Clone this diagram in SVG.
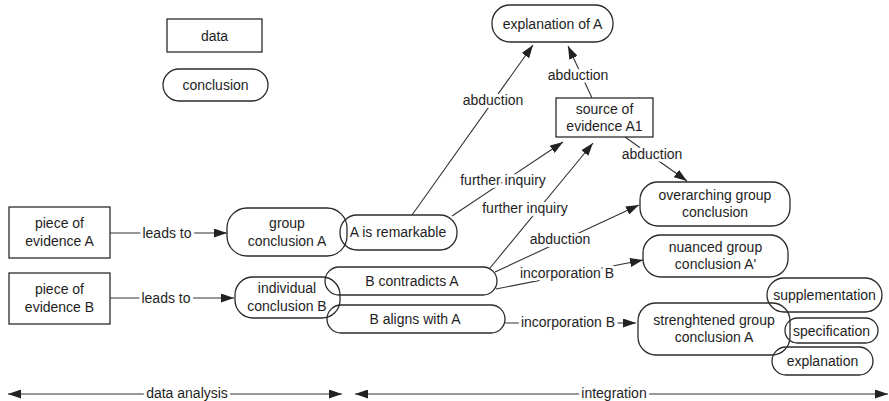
<svg xmlns="http://www.w3.org/2000/svg" width="889" height="401" viewBox="0 0 889 401">
  <style>
    .box { fill: none; stroke: #2b2b2b; stroke-width: 1.3; }
    .t { font-family: "Liberation Sans", Arial, sans-serif; font-size: 14px; fill: #1e1e1e; text-anchor: middle; }
    .edge { fill: none; stroke: #333; stroke-width: 1.1; }
    .arrow { marker-end: url(#head); }
    .lbl { font-family: "Liberation Sans", Arial, sans-serif; font-size: 14px; fill: #1e1e1e; text-anchor: middle; stroke: #fff; stroke-width: 6; paint-order: stroke; stroke-linejoin: round; }
  </style>
  <defs>
    <marker id="head" markerUnits="userSpaceOnUse" markerWidth="13" markerHeight="9" refX="13" refY="4.5" orient="auto-start-reverse">
      <path d="M0,0 L13,4.5 L0,9 Z" fill="#222"/>
    </marker>
  </defs>
  <rect width="889" height="401" fill="#fff"/>

  <!-- legend -->
  <g id="legend-data">
    <rect class="box" x="167" y="19" width="95" height="33"/>
    <text class="t" x="214.5" y="40.5">data</text>
  </g>
  <g id="legend-conclusion">
    <rect class="box" x="163" y="69" width="105" height="32" rx="16"/>
    <text class="t" x="215.5" y="90">conclusion</text>
  </g>

  <!-- connectors -->
  <g id="connectors">
    <path class="edge arrow" d="M110,233 L227,233"/>
    <path class="edge arrow" d="M110,298 L234,298"/>
    <path class="edge arrow" d="M412,215 L533,45"/>
    <path class="edge arrow" d="M592,98 L568,46"/>
    <path class="edge arrow" d="M452,216 L563,142"/>
    <path class="edge arrow" d="M490,268 L593,143"/>
    <path class="edge arrow" d="M495,272 L639,205"/>
    <path class="edge arrow" d="M496,289 L643,260"/>
    <path class="edge arrow" d="M625,137 L687,181"/>
    <path class="edge arrow" d="M505,323 L636,323"/>
    <path class="edge" d="M8,394 L342,394" marker-start="url(#head)" marker-end="url(#head)"/>
    <path class="edge" d="M355,394 L888,394" marker-start="url(#head)" marker-end="url(#head)"/>

    <text class="lbl" x="167" y="238">leads to</text>
    <text class="lbl" x="166" y="303">leads to</text>
    <text class="lbl" x="493" y="105">abduction</text>
    <text class="lbl" x="578" y="80">abduction</text>
    <text class="lbl" x="503" y="185">further inquiry</text>
    <text class="lbl" x="525" y="213">further inquiry</text>
    <text class="lbl" x="560" y="244">abduction</text>
    <text class="lbl" x="567" y="278">incorporation B</text>
    <text class="lbl" x="652" y="159">abduction</text>
    <text class="lbl" x="568" y="327">incorporation B</text>
    <text class="lbl" x="187" y="398">data analysis</text>
    <text class="lbl" x="614" y="398">integration</text>
  </g>

  <!-- nodes -->
  <g id="explanation-of-a">
    <rect class="box" x="492" y="5" width="121" height="37" rx="18"/>
    <text class="t" x="552.5" y="28.5">explanation of A</text>
  </g>
  <g id="source-of-evidence-a1">
    <rect class="box" x="556" y="98" width="97" height="39"/>
    <text class="t" x="604.5" y="114">source of</text>
    <text class="t" x="604.5" y="131">evidence A1</text>
  </g>
  <g id="piece-of-evidence-a">
    <rect class="box" x="9" y="207" width="101" height="51"/>
    <text class="t" x="59.5" y="228">piece of</text>
    <text class="t" x="59.5" y="246">evidence A</text>
  </g>
  <g id="piece-of-evidence-b">
    <rect class="box" x="9" y="273" width="101" height="51"/>
    <text class="t" x="59.5" y="294">piece of</text>
    <text class="t" x="59.5" y="312">evidence B</text>
  </g>
  <g id="group-conclusion-a">
    <rect class="box" x="227" y="208" width="120" height="48" rx="20"/>
    <text class="t" x="287" y="228">group</text>
    <text class="t" x="287" y="246">conclusion A</text>
  </g>
  <g id="a-is-remarkable">
    <rect class="box" x="340" y="215" width="117" height="35" rx="17"/>
    <text class="t" x="398" y="237">A is remarkable</text>
  </g>
  <g id="individual-conclusion-b">
    <rect class="box" x="235" y="277" width="105" height="41" rx="18"/>
    <text class="t" x="287" y="293">individual</text>
    <text class="t" x="287" y="311">conclusion B</text>
  </g>
  <g id="b-contradicts-a">
    <rect class="box" x="325" y="267" width="172" height="28" rx="14"/>
    <text class="t" x="412" y="285.5">B contradicts A</text>
  </g>
  <g id="b-aligns-with-a">
    <rect class="box" x="327" y="305" width="178" height="28" rx="14"/>
    <text class="t" x="415" y="323.5">B aligns with A</text>
  </g>
  <g id="overarching-group-conclusion">
    <rect class="box" x="640" y="182" width="150" height="44" rx="18"/>
    <text class="t" x="715" y="200">overarching group</text>
    <text class="t" x="715" y="217">conclusion</text>
  </g>
  <g id="nuanced-group-conclusion">
    <rect class="box" x="643" y="235" width="145" height="42" rx="18"/>
    <text class="t" x="715.5" y="252">nuanced group</text>
    <text class="t" x="715.5" y="269">conclusion A'</text>
  </g>
  <g id="strenghtened-group-conclusion">
    <rect class="box" x="638" y="303" width="152" height="52" rx="18"/>
    <text class="t" x="714" y="325">strenghtened group</text>
    <text class="t" x="714" y="342">conclusion A</text>
  </g>
  <g id="supplementation">
    <rect class="box" x="767" y="278" width="115" height="34" rx="17"/>
    <text class="t" x="824.5" y="300">supplementation</text>
  </g>
  <g id="specification">
    <rect class="box" x="785" y="318" width="93" height="25" rx="12.5"/>
    <text class="t" x="831.5" y="335.5">specification</text>
  </g>
  <g id="explanation">
    <rect class="box" x="772" y="347" width="101" height="28" rx="14"/>
    <text class="t" x="822.5" y="366">explanation</text>
  </g>
</svg>
